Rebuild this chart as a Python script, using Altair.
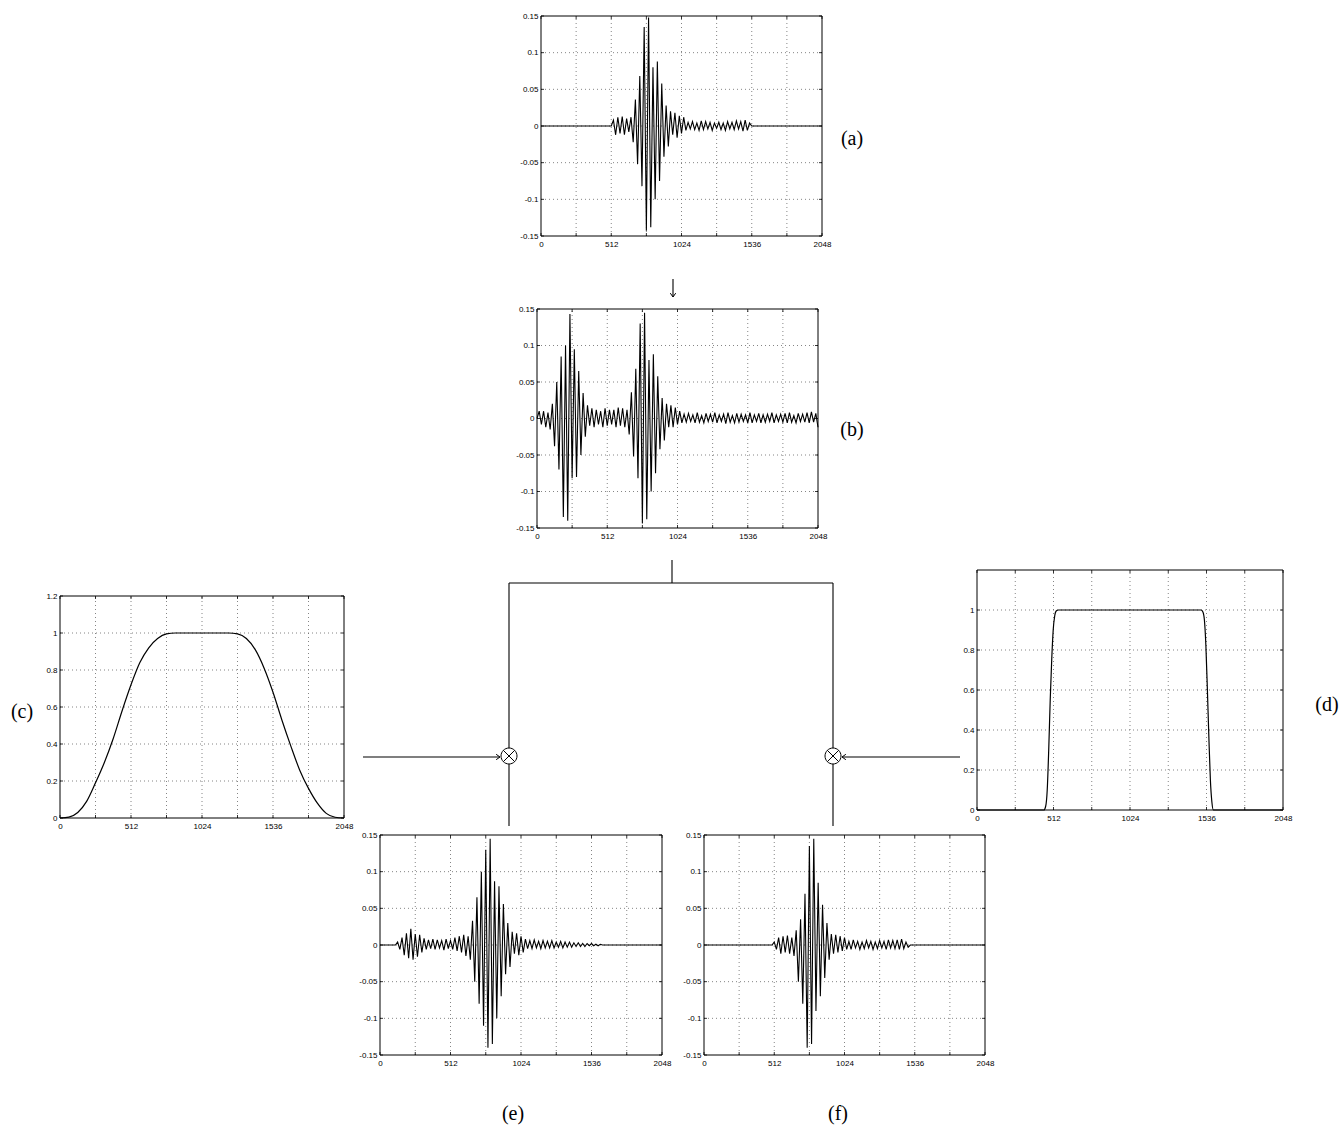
import altair as alt
import pandas as pd

W, H = 1343, 1125

# ---------------- axis ticks ----------------
X_TICKS = [0, 256, 512, 768, 1024, 1280, 1536, 1792, 2048]
X_GRID = [256, 512, 768, 1024, 1280, 1536, 1792]
SIG_TICKS = [-0.15, -0.1, -0.05, 0, 0.05, 0.1, 0.15]
SIG_GRID = [-0.1, -0.05, 0, 0.05, 0.1]
C_TICKS = [0, 0.2, 0.4, 0.6, 0.8, 1.0, 1.2]
C_GRID = [0.2, 0.4, 0.6, 0.8, 1.0]
D_TICKS = [0, 0.2, 0.4, 0.6, 0.8, 1.0]
D_GRID = [0.2, 0.4, 0.6, 0.8, 1.0]

# ---------------- signals (sample step 16) ----------------
STEP = 16

# (a) windowed signal, nonzero between 512 and 1536
A_START = 512
A_VALS = [0.0, 0.008, -0.012, 0.012, -0.01, 0.013, -0.012, 0.01, -0.008, 0.012,
          -0.022, 0.036, -0.052, 0.068, -0.082, 0.135, -0.143, 0.148, -0.138, 0.08,
          -0.1, 0.088, -0.075, 0.058, -0.042, 0.028, -0.028, 0.02, -0.012, 0.018,
          -0.016, 0.014, -0.01, 0.012, -0.006, 0.005, -0.004, 0.006, -0.005, 0.004,
          -0.006, 0.007, -0.005, 0.006, -0.004, 0.005, -0.006, 0.004, -0.003, 0.005,
          -0.005, 0.004, -0.006, 0.006, -0.004, 0.005, -0.005, 0.007, -0.004, 0.006,
          -0.007, 0.008, -0.006, 0.004, 0.0]

# (b) full signal over 0..2048
B_START = 0
B_VALS = [0.0, 0.01, -0.008, 0.01, -0.012, 0.008, -0.015, 0.02, -0.038, 0.05,
          -0.07, 0.085, -0.135, 0.1, -0.14, 0.143, -0.082, 0.095, -0.08, 0.065,
          -0.05, 0.035, -0.025, 0.018, -0.01, 0.014, -0.012, 0.012, -0.008, 0.01,
          -0.012, 0.014, -0.01, 0.012, -0.008, 0.012, -0.012, 0.015, -0.01, 0.014,
          -0.012, 0.012, -0.022, 0.036, -0.052, 0.068, -0.082, 0.13, -0.143, 0.145,
          -0.138, 0.08, -0.1, 0.088, -0.075, 0.058, -0.042, 0.028, -0.03, 0.02,
          -0.012, 0.018, -0.012, 0.015, -0.008, 0.01, -0.006, 0.006, -0.005, 0.007,
          -0.004, 0.005, -0.006, 0.008, -0.005, 0.004, -0.006, 0.007, -0.004, 0.006,
          -0.005, 0.008, -0.006, 0.005, -0.004, 0.006, -0.007, 0.008, -0.005, 0.004,
          -0.006, 0.007, -0.005, 0.006, -0.004, 0.005, -0.006, 0.008, -0.006, 0.005,
          -0.004, 0.007, -0.006, 0.005, -0.005, 0.006, -0.004, 0.008, -0.006, 0.005,
          -0.004, 0.006, -0.005, 0.007, -0.006, 0.008, -0.005, 0.004, -0.006, 0.007,
          -0.004, 0.006, -0.005, 0.008, -0.006, 0.009, -0.005, 0.007, -0.012]

# (e) signal times window (c)
E_START = 112
E_VALS = [0.0, 0.004, -0.006, 0.01, -0.014, 0.016, -0.018, 0.022, -0.02, 0.015,
          -0.016, 0.014, -0.01, 0.009, -0.006, 0.007, -0.005, 0.008, -0.006, 0.007,
          -0.004, 0.006, -0.007, 0.008, -0.005, 0.006, -0.006, 0.01, -0.008, 0.012,
          -0.01, 0.014, -0.015, 0.012, -0.02, 0.033, -0.05, 0.065, -0.08, 0.1,
          -0.11, 0.13, -0.14, 0.145, -0.135, 0.087, -0.1, 0.08, -0.07, 0.056,
          -0.04, 0.03, -0.03, 0.018, -0.012, 0.016, -0.014, 0.012, -0.01, 0.008,
          -0.005, 0.006, -0.005, 0.007, -0.004, 0.005, -0.005, 0.006, -0.004, 0.005,
          -0.004, 0.006, -0.004, 0.004, -0.003, 0.005, -0.004, 0.004, -0.003, 0.004,
          -0.003, 0.003, -0.002, 0.003, -0.002, 0.002, -0.002, 0.002, -0.001, 0.002,
          -0.001, 0.001, -0.001, 0.001, 0.0]

# (f) signal times window (d)
F_START = 496
F_VALS = [0.0, 0.004, -0.006, 0.01, -0.012, 0.012, -0.01, 0.013, -0.012, 0.01,
          -0.015, 0.02, -0.05, 0.035, -0.08, 0.07, -0.14, 0.135, -0.135, 0.145,
          -0.09, 0.085, -0.07, 0.055, -0.045, 0.03, -0.02, 0.015, -0.012, 0.014,
          -0.01, 0.012, -0.008, 0.01, -0.006, 0.005, -0.006, 0.007, -0.004, 0.005,
          -0.006, 0.004, -0.005, 0.006, -0.004, 0.005, -0.006, 0.004, -0.005, 0.006,
          -0.004, 0.005, -0.006, 0.007, -0.004, 0.006, -0.005, 0.007, -0.006, 0.008,
          -0.005, 0.004, -0.003, 0.0]

# (c) smooth window
C_X = [0, 64, 128, 192, 256, 320, 384, 448, 512, 576, 640, 704, 768, 832, 896,
       960, 1024, 1088, 1152, 1216, 1280, 1344, 1408, 1472, 1536, 1600, 1664,
       1728, 1792, 1856, 1920, 1984, 2048]
C_Y = [0, 0.005, 0.03, 0.09, 0.19, 0.3, 0.43, 0.58, 0.72, 0.84, 0.92, 0.97,
       0.995, 1.0, 1.0, 1.0, 1.0, 1.0, 1.0, 1.0, 0.995, 0.97, 0.91, 0.81, 0.68,
       0.53, 0.39, 0.26, 0.16, 0.08, 0.025, 0.004, 0]

# (d) sharp window
D_X = [0, 448, 460, 470, 480, 490, 500, 510, 520, 530, 545, 1500, 1512, 1522,
       1532, 1542, 1552, 1562, 1572, 1582, 2048]
D_Y = [0, 0, 0.02, 0.1, 0.3, 0.55, 0.75, 0.9, 0.97, 0.995, 1, 1, 0.99, 0.95,
       0.82, 0.6, 0.36, 0.15, 0.04, 0, 0]

# ---------------- layout (pixel boxes: left, right, top, bottom) ----------------
BOX = {
    'a': (541, 822, 16, 236),
    'b': (537, 818, 309, 528),
    'c': (60, 344, 596, 818),
    'd': (977, 1283, 570, 810),
    'e': (380, 662, 835, 1055),
    'f': (704, 985, 835, 1055),
}
TICK_PX = 3

# diagram connectors in page pixels
SEG_X1 = [673, 672, 509, 509, 509, 833, 833, 363, 842]
SEG_Y1 = [279, 560, 583, 583, 764, 583, 764, 757, 757]
SEG_X2 = [673, 672, 833, 509, 509, 833, 833, 500, 960]
SEG_Y2 = [297, 583, 583, 748, 826, 748, 826, 757, 757]
HEAD_X = [673, 500, 842]
HEAD_Y = [297, 757, 757]
HEAD_ANGLE = [90, 0, 180]
MULT_X = [509, 833]
MULT_Y = [756, 756]
LABELS = ['(a)', '(b)', '(c)', '(d)', '(e)', '(f)']
LABEL_X = [852, 852, 22, 1327, 513, 838]
LABEL_Y = [139, 430, 712, 705, 1114, 1114]

TICK_FONT = 'Liberation Sans'
SIG_LABEL_EXPR = ("datum.value < 0 ? '-' + format(-datum.value, '~g') : "
                  "format(datum.value, '~g')")


def wave_frame(start, vals):
    xs = [0] + [start + STEP * i for i in range(len(vals))] + [2048]
    last = start + STEP * (len(vals) - 1)
    ys = [0.0] + list(vals) + [vals[-1] if last >= 2048 else 0.0]
    return pd.DataFrame({'x': xs, 'y': ys})


def panel(key, df, ydom, yticks, ygrid, curve_width, interp='linear'):
    L, R, T, B = BOX[key]
    lo, hi = ydom
    dx = 2048 * TICK_PX / (R - L)
    dy = (hi - lo) * TICK_PX / (B - T)

    def xs():
        return alt.Scale(domain=[0, 2048], range=[L, R], nice=False, zero=False)

    def ys():
        return alt.Scale(domain=ydom, range=[B, T], nice=False, zero=False)

    xaxis = alt.Axis(orient='bottom', offset=B - H, values=X_TICKS, format='d',
                     labelExpr="datum.value % 512 == 0 ? datum.label : ''",
                     grid=False, domain=False, ticks=False, title=None,
                     labelFont=TICK_FONT, labelFontSize=8, labelColor='black',
                     labelPadding=4, labelFlush=False, labelOverlap=False)
    yaxis = alt.Axis(orient='left', offset=-L, values=yticks,
                     labelExpr=SIG_LABEL_EXPR,
                     grid=False, domain=False, ticks=False, title=None,
                     labelFont=TICK_FONT, labelFontSize=8, labelColor='black',
                     labelPadding=3, labelOverlap=False)
    grid_style = dict(strokeDash=[1, 3], color='#666', strokeWidth=0.8)
    vgrid = alt.Chart(pd.DataFrame({'g': X_GRID, 'lo': lo, 'hi': hi})).mark_rule(
        **grid_style).encode(
        x=alt.X('g:Q', scale=xs(), axis=None),
        y=alt.Y('lo:Q', scale=ys(), axis=None), y2='hi:Q')
    hgrid = alt.Chart(pd.DataFrame({'g': ygrid, 'lo': 0, 'hi': 2048})).mark_rule(
        **grid_style).encode(
        y=alt.Y('g:Q', scale=ys(), axis=None),
        x=alt.X('lo:Q', scale=xs(), axis=None), x2='hi:Q')
    # small inward ticks on all four sides (MATLAB box style)
    xt = pd.DataFrame({'t': X_TICKS * 2,
                       'a': [lo] * len(X_TICKS) + [hi] * len(X_TICKS),
                       'b': [lo + dy] * len(X_TICKS) + [hi - dy] * len(X_TICKS)})
    yt = pd.DataFrame({'t': yticks * 2,
                       'a': [0] * len(yticks) + [2048] * len(yticks),
                       'b': [dx] * len(yticks) + [2048 - dx] * len(yticks)})
    xtick = alt.Chart(xt).mark_rule(color='black', strokeWidth=0.8).encode(
        x=alt.X('t:Q', scale=xs(), axis=None),
        y=alt.Y('a:Q', scale=ys(), axis=None), y2='b:Q')
    ytick = alt.Chart(yt).mark_rule(color='black', strokeWidth=0.8).encode(
        y=alt.Y('t:Q', scale=ys(), axis=None),
        x=alt.X('a:Q', scale=xs(), axis=None), x2='b:Q')
    frame = alt.Chart(pd.DataFrame({'x0': [0], 'x1': [2048], 'y0': [lo], 'y1': [hi]})).mark_rect(
        filled=False, color='black', strokeWidth=1).encode(
        x=alt.X('x0:Q', scale=xs(), axis=None), x2='x1:Q',
        y=alt.Y('y0:Q', scale=ys(), axis=None), y2='y1:Q')
    line = alt.Chart(df).mark_line(color='black', strokeWidth=curve_width, clip=True,
                                   interpolate=interp).encode(
        x=alt.X('x:Q', scale=xs(), axis=xaxis),
        y=alt.Y('y:Q', scale=ys(), axis=yaxis))
    return [vgrid, hgrid, xtick, ytick, frame, line]


layers = []
layers += panel('a', wave_frame(A_START, A_VALS), [-0.15, 0.15], SIG_TICKS, SIG_GRID, 1.1)
layers += panel('b', wave_frame(B_START, B_VALS), [-0.15, 0.15], SIG_TICKS, SIG_GRID, 1.1)
layers += panel('c', pd.DataFrame({'x': C_X, 'y': C_Y}), [0, 1.2], C_TICKS, C_GRID, 1.2,
                'monotone')
layers += panel('d', pd.DataFrame({'x': D_X, 'y': D_Y}), [0, 1.2], D_TICKS, D_GRID, 1.2,
                'monotone')
layers += panel('e', wave_frame(E_START, E_VALS), [-0.15, 0.15], SIG_TICKS, SIG_GRID, 1.1)
layers += panel('f', wave_frame(F_START, F_VALS), [-0.15, 0.15], SIG_TICKS, SIG_GRID, 1.1)


# ---------------- diagram overlay (page pixel scales) ----------------
def ox():
    return alt.Scale(domain=[0, W], range=[0, W], nice=False, zero=False)


def oy():
    return alt.Scale(domain=[0, H], range=[0, H], nice=False, zero=False)


segs = alt.Chart(pd.DataFrame({'x': SEG_X1, 'y': SEG_Y1, 'x2': SEG_X2, 'y2': SEG_Y2})
                 ).mark_rule(color='black', strokeWidth=1.1).encode(
    x=alt.X('x:Q', scale=ox(), axis=None), y=alt.Y('y:Q', scale=oy(), axis=None),
    x2='x2:Q', y2='y2:Q')

heads = alt.Chart(pd.DataFrame({'x': HEAD_X, 'y': HEAD_Y, 'a': HEAD_ANGLE})).mark_point(
    shape='M-1,-0.7L0,0L-1,0.7', filled=False, color='black', strokeWidth=1, size=60,
    opacity=1).encode(
    x=alt.X('x:Q', scale=ox(), axis=None), y=alt.Y('y:Q', scale=oy(), axis=None),
    angle=alt.Angle('a:Q', scale=None))

mults = alt.Chart(pd.DataFrame({'x': MULT_X, 'y': MULT_Y})).mark_point(
    shape='M1,0A1,1,0,1,1,-1,0A1,1,0,1,1,1,0M-0.7071,-0.7071L0.7071,0.7071M-0.7071,0.7071L0.7071,-0.7071',
    filled=False, color='black', strokeWidth=1, size=256, opacity=1).encode(
    x=alt.X('x:Q', scale=ox(), axis=None), y=alt.Y('y:Q', scale=oy(), axis=None))

labels = alt.Chart(pd.DataFrame({'x': LABEL_X, 'y': LABEL_Y, 't': LABELS})).mark_text(
    font='Liberation Serif', fontSize=20, color='black', align='center',
    baseline='middle').encode(
    x=alt.X('x:Q', scale=ox(), axis=None), y=alt.Y('y:Q', scale=oy(), axis=None),
    text='t:N')

layers += [segs, heads, mults, labels]

chart = alt.layer(*layers).resolve_scale(
    x='independent', y='independent').properties(
    width=W, height=H, padding=0, background='white').configure_view(stroke=None)

chart.save('out.html', embed_options={'renderer': 'svg', 'actions': False})
